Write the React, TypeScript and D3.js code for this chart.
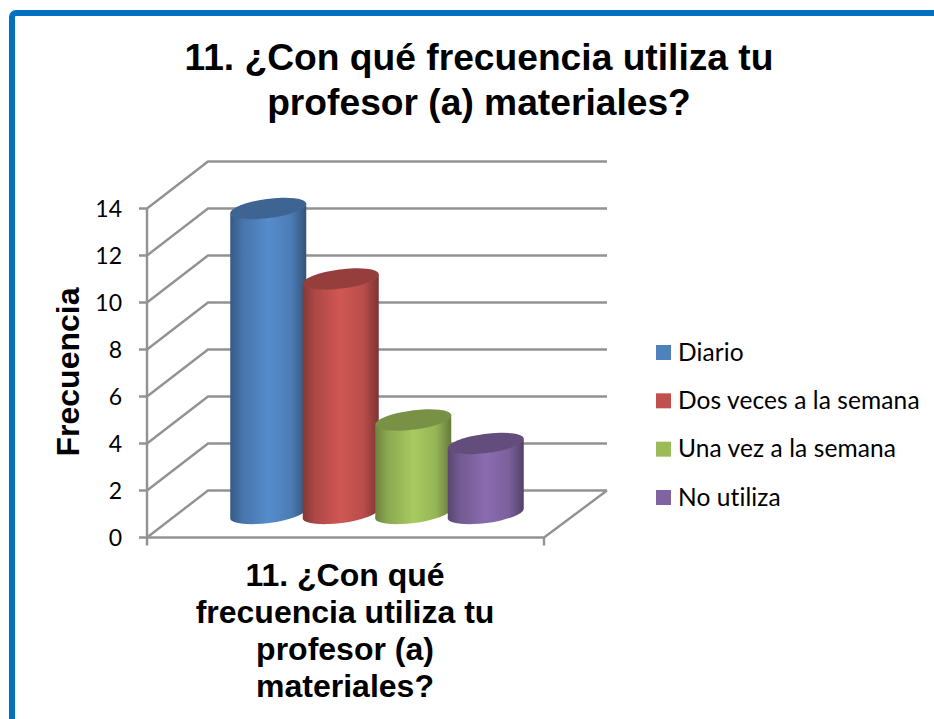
import React from "react";
import * as d3 from "d3";

const titleLines = ["11. ¿Con qué frecuencia utiliza tu", "profesor (a) materiales?"];
const categoryLines = ["11. ¿Con qué", "frecuencia utiliza tu", "profesor (a)", "materiales?"];
const axisTitle = "Frecuencia";
const seriesNames = ["Diario", "Dos veces a la semana", "Una vez a la semana", "No utiliza"];
const seriesValues = [13, 10, 4, 3];
const seriesColors = ["#4F81BD", "#C0504D", "#9BBB59", "#8064A2"];
const tickValues = [0, 2, 4, 6, 8, 10, 12, 14];

const GREY = "#929292";
const SANS = "'Liberation Sans', Arial, sans-serif";
const LABEL = "Lato, 'Noto Sans', sans-serif";

const FX0 = 147, FX1 = 544, DX = 63, DY = -47;
const y = d3.scaleLinear().domain([0, 14]).range([537.5, 208.5]);
const band = d3.scaleBand<string>().domain(seriesNames).range([232, 522]).padding(0);
const legendY = d3.scalePoint<string>().domain(seriesNames).range([352.5, 497.5]);

const RX = 38.4, RY = 9.6, ROT = -7.5;
const ex = 38, ey = -5;

function shade(c: string, k: number) {
  return k >= 0 ? d3.rgb(c).darker(k).formatHex() : d3.rgb(c).brighter(-k).formatHex();
}

export default function App() {
  const backX0 = FX0 + DX - 2;
  const backX1 = FX1 + DX;
  return (
    <svg width={934} height={719} style={{ position: "absolute", left: 0, top: 0, background: "#fff" }}>
      <defs>
        {seriesColors.map((c, i) => (
          <linearGradient key={i} id={`g${i}`} x1="0" x2="1" y1="0" y2="0">
            <stop offset="0" stopColor={shade(c, 1.0)} />
            <stop offset="0.16" stopColor={shade(c, 0.3)} />
            <stop offset="0.5" stopColor={shade(c, -0.22)} />
            <stop offset="0.8" stopColor={shade(c, 0.1)} />
            <stop offset="1" stopColor={shade(c, 1.2)} />
          </linearGradient>
        ))}
      </defs>

      <rect x={12} y={13} width={1000} height={800} rx={4} fill="#fff" stroke="#0070C0" strokeWidth={6} />

      <g fontFamily={SANS} fontWeight="bold" fontSize={37.2} textAnchor="middle" fill="#000">
        {titleLines.map((t, i) => (
          <text key={t} x={479} y={70 + i * 45}>{t}</text>
        ))}
      </g>

      <g stroke={GREY} strokeWidth={2.4} fill="none">
        {tickValues.map((v) => (
          <path key={v} d={`M${FX0 - 8},${y(v)}H${FX0}L${backX0},${y(v) + DY}H${backX1}`} />
        ))}
        <path d={`M${FX0},${y(14)}V${y(0) + 8}`} />
        <path d={`M${FX0},${y(0)}H${FX1}L${backX1},${y(0) + DY}`} />
        <path d={`M${FX1},${y(0)}V${y(0) + 8}`} />
      </g>

      {seriesNames.map((name, i) => {
        const cx = (band(name) as number) + band.bandwidth() / 2;
        const topY = y(seriesValues[i]) + DY / 2;
        const botY = y(0) + DY / 2;
        const body =
          `M${cx - ex},${topY - ey}L${cx - ex},${botY - ey}` +
          `A${RX},${RY} ${ROT} 0 0 ${cx + ex},${botY + ey}` +
          `L${cx + ex},${topY + ey}` +
          `A${RX},${RY} ${ROT} 0 1 ${cx - ex},${topY - ey}Z`;
        return (
          <g key={name}>
            <path d={body} fill={`url(#g${i})`} />
            <ellipse
              cx={cx}
              cy={topY}
              rx={RX}
              ry={RY}
              transform={`rotate(${ROT} ${cx} ${topY})`}
              fill={shade(seriesColors[i], 0.72)}
            />
          </g>
        );
      })}

      <g fontFamily={LABEL} fontSize={23} fill="#000" textAnchor="end">
        {tickValues.map((v) => (
          <text key={v} x={122} y={y(v) + 8}>{v}</text>
        ))}
      </g>

      <text
        transform="translate(79,372) rotate(-90)"
        fontFamily={SANS}
        fontWeight="bold"
        fontSize={32}
        textAnchor="middle"
      >
        {axisTitle}
      </text>

      <g fontFamily={SANS} fontWeight="bold" fontSize={32} textAnchor="middle">
        {categoryLines.map((t, i) => (
          <text key={t} x={345} y={586 + i * 37}>{t}</text>
        ))}
      </g>

      {seriesNames.map((name, i) => (
        <g key={name}>
          <rect x={656} y={(legendY(name) as number) - 7.5} width={15} height={15} fill={seriesColors[i]} />
          <text
            x={678}
            y={(legendY(name) as number) + 8}
            fontFamily={LABEL}
            fontSize={24.5}
            letterSpacing={0.1}
            fill="#000"
            style={{ fontVariantLigatures: "none" }}
          >
            {name}
          </text>
        </g>
      ))}
    </svg>
  );
}
